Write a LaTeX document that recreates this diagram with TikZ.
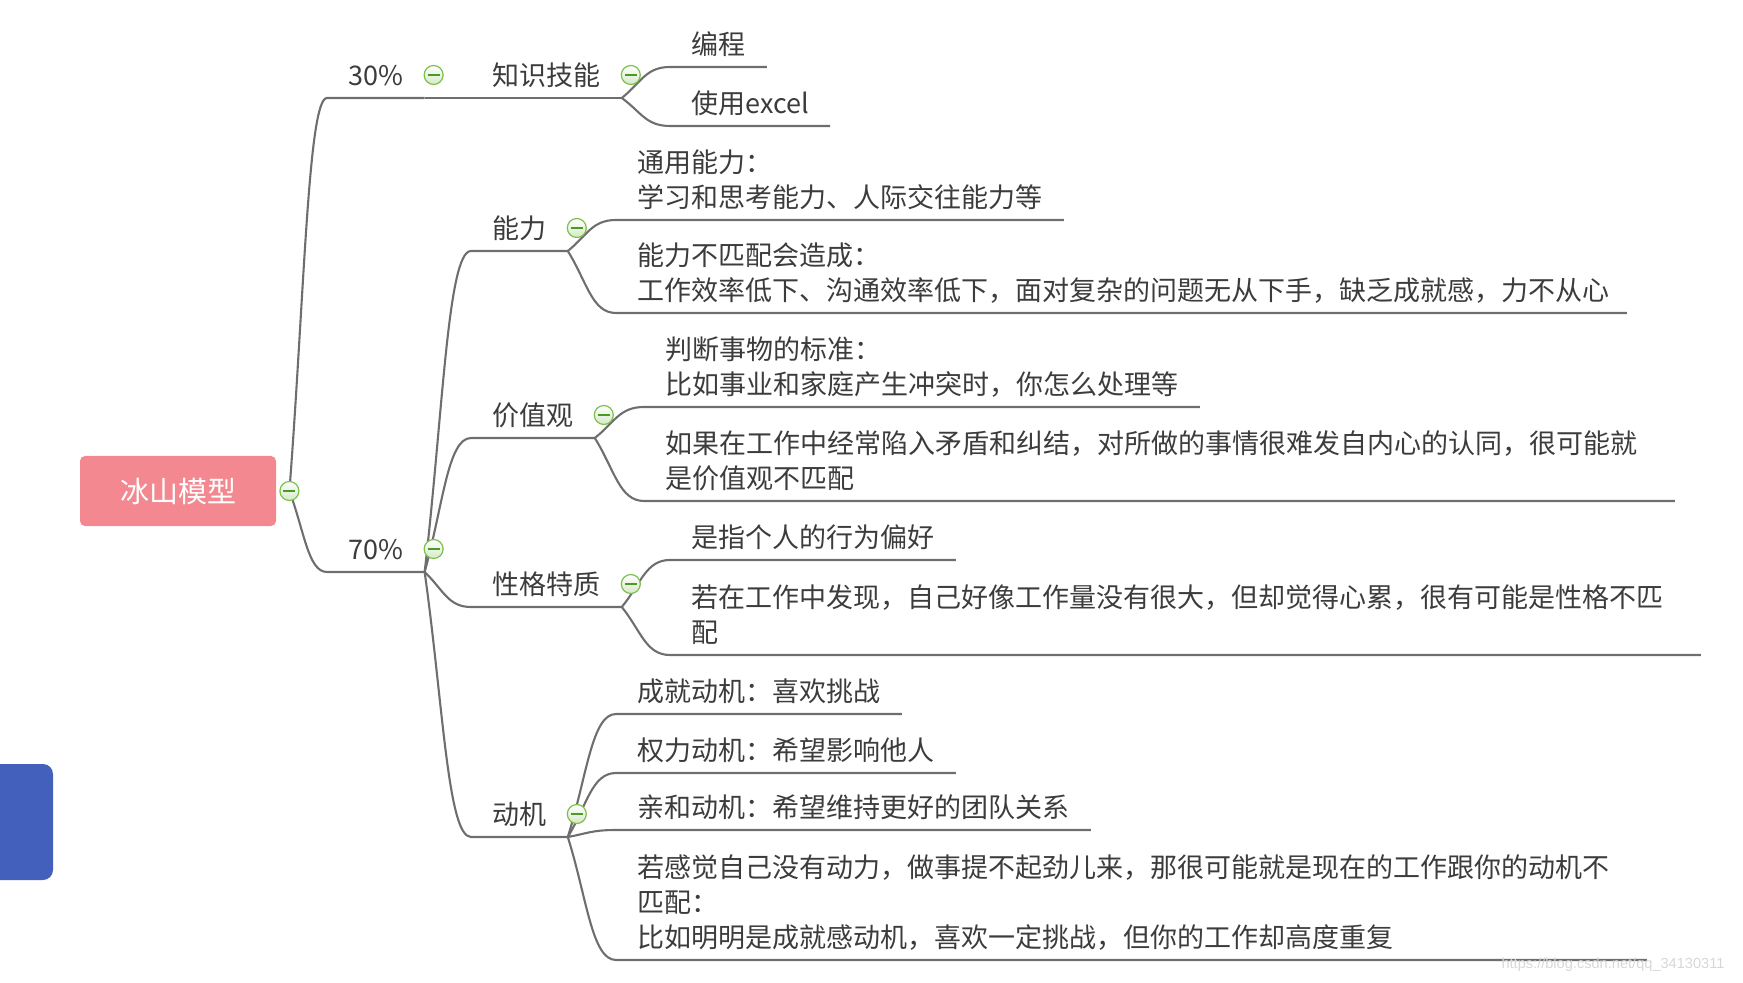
\documentclass[tikz,border=0pt]{standalone}
\usepackage{fontspec}
\setmainfont{Noto Sans CJK SC}
\newfontfamily\markfont{Liberation Sans}
\usetikzlibrary{calc}
\definecolor{inkgrey}{RGB}{60, 60, 60}
\definecolor{limbgrey}{RGB}{110, 110, 110}
\definecolor{rootpink}{RGB}{243, 136, 145}
\definecolor{sideblue}{RGB}{66, 96, 188}
\definecolor{knobgreen}{RGB}{124, 192, 74}
\definecolor{knobfill}{RGB}{214, 232, 200}
\definecolor{knobmark}{RGB}{74, 154, 36}
\definecolor{marklight}{RGB}{215, 215, 215}
\newcommand{\mapfont}{\fontsize{13.5}{17.4}\selectfont}
% 分支曲线：父节点端点 -> 子节点下划线
\newcommand{\branchto}[2]{%
  \draw[limb] let \p1=(#1), \p2=(#2.south west) in
    (\p1) .. controls ({\x1+0.4*(\x2-\x1)},{\y1+0.5*(\y2-\y1)}) and ({\x1+0.5*(\x2-\x1)},\y2) .. (\p2)
    -- (#2.south east);}

\begin{document}
\begin{tikzpicture}[x=0.5pt, y=-0.5pt,
  topic/.style={anchor=south west, inner xsep=10.5pt, inner ysep=1pt, text=inkgrey,
    font=\mapfont, align=left, execute at end node=\strut},
  longtext/.style={topic, text width=494pt},
  limb/.style={draw=limbgrey, line width=1.05pt},
  knob/.style={circle, draw=knobgreen, line width=0.6pt, inner sep=0pt, minimum size=9.5pt,
    top color=white, bottom color=knobfill,
    path picture={\draw[knobmark, line width=0.6pt]
      ([xshift=-3pt]path picture bounding box.center) -- ([xshift=3pt]path picture bounding box.center);}},
  rootbox/.style={fill=rootpink, rounded corners=2.5pt, minimum width=98pt, minimum height=35pt,
    text=white, font=\fontsize{14.5}{17}\selectfont}]
  \useasboundingbox (0,0) rectangle (1743,983);

  % 左侧蓝色块（被截断）
  \fill[sideblue, rounded corners=5pt] (-20,764) rectangle (53,880);

  % 中心主题
  \node[rootbox] (root) at (178,491) {冰山模型};
  \coordinate (rootpt) at ([xshift=6.5pt]root.east);

  % 一级：30% / 70%
  \node[topic] (n30) at (327,98) {30\%};
  \node[topic] (n70) at (327,572) {70\%};

  % 二级
  \node[topic] (nzs) at (471,98) {知识技能};
  \node[topic] (nnl) at (471,251) {能力};
  \node[topic] (njz) at (471,438) {价值观};
  \node[topic] (nxg) at (471,607) {性格特质};
  \node[topic] (ndj) at (471,837) {动机};

  % 知识技能
  \node[topic] (nbc) at (670,67) {编程};
  \node[topic] (nex) at (670,126) {使用excel};

  % 能力
  \node[topic] (nty) at (616,220) {通用能力：\\学习和思考能力、人际交往能力等};
  \node[topic, text width=484pt] (nbp) at (616,313)
    {能力不匹配会造成：\\工作效率低下、沟通效率低下，面对复杂的问题无从下手，缺乏成就感，力不从心};

  % 价值观
  \node[topic] (npd) at (644,407) {判断事物的标准：\\比如事业和家庭产生冲突时，你怎么处理等};
  \node[longtext] (nrg) at (644,501)
    {如果在工作中经常陷入矛盾和纠结，对所做的事情很难发自内心的认同，很可能就\\是价值观不匹配};

  % 性格特质
  \node[topic] (nsz) at (670,560) {是指个人的行为偏好};
  \node[longtext] (nrz) at (670,655)
    {若在工作中发现，自己好像工作量没有很大，但却觉得心累，很有可能是性格不匹\\配};

  % 动机
  \node[topic] (ncj) at (616,714) {成就动机：喜欢挑战};
  \node[topic] (nql) at (616,773) {权力动机：希望影响他人};
  \node[topic] (nqh) at (616,830) {亲和动机：希望维持更好的团队关系};
  \node[longtext] (nrj) at (616,960)
    {若感觉自己没有动力，做事提不起劲儿来，那很可能就是现在的工作跟你的动机不\\匹配：\\比如明明是成就感动机，喜欢一定挑战，但你的工作却高度重复};

  % 连线
  \branchto{rootpt}{n30}
  \branchto{rootpt}{n70}
  \branchto{n30.south east}{nzs}
  \branchto{nzs.south east}{nbc}
  \branchto{nzs.south east}{nex}
  \foreach \kid in {nnl, njz, nxg, ndj} {\branchto{n70.south east}{\kid}}
  \foreach \kid in {nty, nbp} {\branchto{nnl.south east}{\kid}}
  \foreach \kid in {npd, nrg} {\branchto{njz.south east}{\kid}}
  \foreach \kid in {nsz, nrz} {\branchto{nxg.south east}{\kid}}
  \foreach \kid in {ncj, nql, nqh, nrj} {\branchto{ndj.south east}{\kid}}

  % 折叠按钮
  \node[knob] (kroot) at (rootpt) {};
  \foreach \nd in {n30, n70, nzs, nnl, njz, nxg, ndj}
    {\node[knob] (k\nd) at ([shift={(4.5pt,11.5pt)}]\nd.south east) {};}

  % 水印
  \node[font=\markfont\fontsize{7.3}{9}\selectfont, text=marklight] (mark) at (1613,965)
    {https://blog.csdn.net/qq\_34130311};
\end{tikzpicture}
\end{document}
